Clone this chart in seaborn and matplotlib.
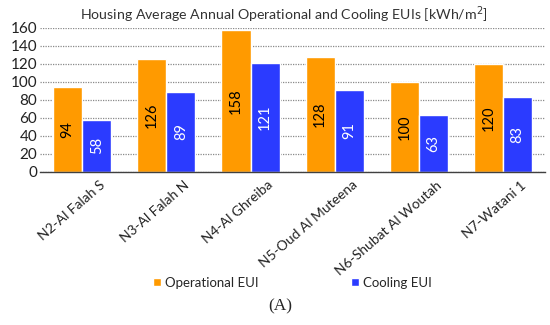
import pandas as pd
import seaborn as sns
import matplotlib.pyplot as plt
import matplotlib.transforms as mtransforms

sites = ["N2-Al Falah S", "N3-Al Falah N", "N4-Al Ghreiba", "N5-Oud Al Muteena",
         "N6-Shubat Al Woutah", "N7-Watani 1"]
operational_eui = [94, 126, 158, 128, 100, 120]
cooling_eui = [58, 89, 121, 91, 63, 83]
series_names = ["Operational EUI", "Cooling EUI"]

df = pd.DataFrame({
    "site": sites * 2,
    "series": [series_names[0]] * len(sites) + [series_names[1]] * len(sites),
    "eui": operational_eui + cooling_eui,
})

palette = {"Operational EUI": "#FF9A00", "Cooling EUI": "#2B3BFF"}
text_colors = {"Operational EUI": "black", "Cooling EUI": "white"}

sns.set_style("white")
plt.rcParams["font.family"] = ["Lato", "DejaVu Sans"]

fig = plt.figure(figsize=(5.5, 3.25), dpi=100)
ax = fig.add_axes([0.073, 0.471, 0.918, 0.443])

sns.barplot(data=df, x="site", y="eui", hue="series", palette=palette,
            width=0.69, gap=0, saturation=1, ax=ax, legend=True)

# value labels, rotated, in the middle of each bar
for container, name in zip(ax.containers, series_names):
    ax.bar_label(container, label_type="center", rotation=90,
                 fontsize=10.5, color=text_colors[name])

ax.set_ylim(0, 160)
ax.set_yticks(range(0, 161, 20))
ax.tick_params(axis="y", labelsize=11, length=0, pad=2, labelcolor="#222222")
ax.tick_params(axis="x", labelsize=10, length=0, pad=5, labelcolor="#222222")
# excel-style slanted labels, end of label a bit right of the category centre
shift = mtransforms.ScaledTranslation(0.17, 0, fig.dpi_scale_trans)
for lab in ax.get_xticklabels():
    lab.set_rotation(41)
    lab.set_ha("right")
    lab.set_rotation_mode("anchor")
    lab.set_transform(lab.get_transform() + shift)
ax.set_xlabel("")
ax.set_ylabel("")
ax.set_xlim(-0.5, len(sites) - 0.5)

ax.yaxis.grid(True, linestyle=(0, (1, 1)), color="#8a8a8a", linewidth=0.9)
ax.set_axisbelow(True)
for side in ["top", "right", "left"]:
    ax.spines[side].set_visible(False)
ax.spines["bottom"].set_color("#404040")
ax.spines["bottom"].set_linewidth(1.0)

ax.set_title("Housing Average Annual Operational and Cooling EUIs [kWh/m$^2$]",
             fontsize=10.2, color="#333333", pad=6, x=0.483)

handles, lbls = ax.get_legend_handles_labels()
ax.legend_.remove()
fig.legend(handles, lbls, loc="center", bbox_to_anchor=(0.532, 0.13), ncol=2,
           frameon=False, fontsize=9.5, handlelength=0.6, handleheight=0.6,
           handletextpad=0.3, columnspacing=7)

fig.text(0.51, 0.058, "(A)", ha="center", va="center", fontsize=12.5,
         family=["Liberation Serif", "DejaVu Serif"])

fig.savefig("out.png", dpi=100)
